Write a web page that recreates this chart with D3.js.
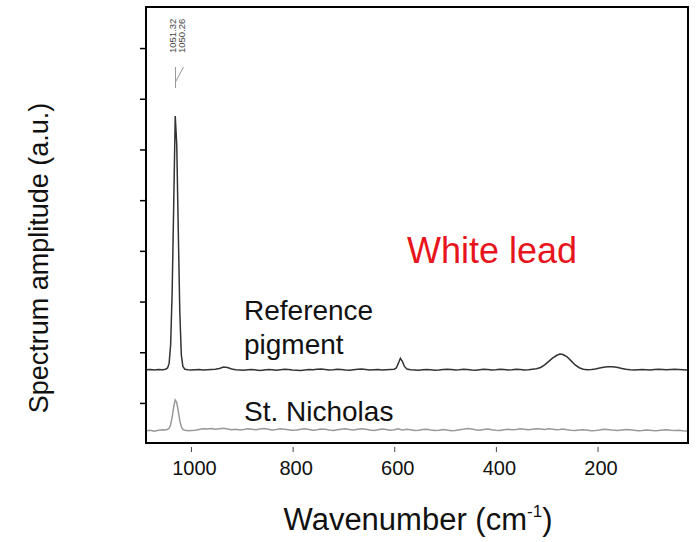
<!DOCTYPE html>
<html>
<head>
<meta charset="utf-8">
<script src="https://cdn.jsdelivr.net/npm/d3@7"></script>
<style>
  body { margin: 0; background: #fff; }
  text { font-family: 'Liberation Sans', Arial, sans-serif; }
</style>
</head>
<body>
<svg width="698" height="542"></svg>
<script>
// raman spectra, white lead

// wavenumber grid (cm-1), shared by both traces
var waveGrid = [1088, 1080, 1072, 1064, 1056, 1050, 1046, 1043, 1040, 1037, 1034, 1031, 1028, 1025, 1022, 1019, 1016, 1012, 1006, 1000,
  992, 984, 976, 968, 960, 952, 944, 936, 928, 920, 912, 904, 896, 888, 880, 872, 864, 856, 848, 840, 832, 824, 816, 808, 800,
  792, 784, 776, 768, 760, 752, 744, 736, 728, 720, 712, 704, 696, 688, 680, 672, 664, 656, 648, 640, 632, 624, 616, 608, 600,
  596, 592, 588, 584, 580, 575, 568,
  560, 552, 544, 536, 528, 520, 512, 504, 496, 488, 480, 472, 464, 456, 448, 440, 432, 424, 416, 408, 400,
  392, 384, 376, 368, 360, 352, 344, 336, 328, 320, 312, 304, 296, 288, 280,
  274, 268,
  260, 252, 244, 236, 228, 220, 212, 204, 196, 188, 180, 172,
  166,
  160, 152, 144, 136, 128, 120, 112, 104, 96, 88, 80, 72, 64, 56, 48, 40, 32, 24];

// reference pigment trace (a.u.)
var referenceAmp = [1.655, 1.66, 1.65, 1.66, 1.655, 1.665, 1.69, 1.78, 2.15, 3.2, 4.9, 6.66, 6.1, 4.4, 2.8, 1.95, 1.72, 1.665, 1.655, 1.65,
  1.655, 1.66, 1.65, 1.655, 1.66, 1.665, 1.68, 1.71, 1.7, 1.67, 1.655, 1.65, 1.645, 1.655, 1.66, 1.65, 1.64, 1.65, 1.66, 1.655, 1.645, 1.655, 1.665, 1.66, 1.65,
  1.645, 1.64, 1.65, 1.66, 1.655, 1.665, 1.67, 1.66, 1.65, 1.655, 1.665, 1.66, 1.65, 1.645, 1.655, 1.665, 1.67, 1.66, 1.65, 1.655, 1.66, 1.65, 1.655, 1.66, 1.665,
  1.69, 1.78, 1.88, 1.82, 1.72, 1.67, 1.655,
  1.65, 1.645, 1.655, 1.66, 1.655, 1.645, 1.65, 1.66, 1.665, 1.66, 1.65, 1.655, 1.665, 1.66, 1.65, 1.645, 1.655, 1.665, 1.66, 1.65, 1.655,
  1.665, 1.66, 1.65, 1.655, 1.665, 1.66, 1.65, 1.655, 1.665, 1.675, 1.70, 1.75, 1.82, 1.89, 1.94,
  1.965, 1.955,
  1.91, 1.83, 1.75, 1.695, 1.665, 1.655, 1.66, 1.67, 1.69, 1.705, 1.715, 1.715,
  1.71,
  1.70, 1.68, 1.665, 1.655, 1.65, 1.655, 1.66, 1.655, 1.65, 1.66, 1.665, 1.66, 1.655, 1.66, 1.665, 1.66, 1.655, 1.65];

// st. nicholas sample trace (a.u.)
var nicholasAmp = [0.45, 0.46, 0.44, 0.46, 0.47, 0.465, 0.48, 0.50, 0.57, 0.72, 0.92, 1.06, 1.01, 0.84, 0.65, 0.53, 0.48, 0.46, 0.45, 0.455,
  0.46, 0.475, 0.49, 0.485, 0.495, 0.48, 0.49, 0.50, 0.485, 0.47, 0.48, 0.465, 0.475, 0.49, 0.48, 0.47, 0.485, 0.495, 0.48, 0.465, 0.475, 0.49, 0.48, 0.47, 0.46,
  0.465, 0.48, 0.49, 0.475, 0.46, 0.47, 0.485, 0.48, 0.465, 0.455, 0.47, 0.48, 0.49, 0.475, 0.465, 0.48, 0.49, 0.48, 0.465, 0.455, 0.47, 0.485, 0.475, 0.46, 0.47,
  0.48, 0.49, 0.475, 0.465, 0.47, 0.48, 0.47,
  0.455, 0.46, 0.475, 0.48, 0.465, 0.455, 0.46, 0.475, 0.465, 0.45, 0.455, 0.47, 0.48, 0.495, 0.485, 0.47, 0.46, 0.475, 0.485, 0.47, 0.46,
  0.455, 0.47, 0.48, 0.47, 0.475, 0.49, 0.48, 0.47, 0.48, 0.49, 0.485, 0.475, 0.49, 0.48, 0.47,
  0.475, 0.485,
  0.47, 0.46, 0.455, 0.465, 0.47, 0.46, 0.45, 0.455, 0.465, 0.48, 0.475, 0.465,
  0.46,
  0.455, 0.465, 0.475, 0.47, 0.46, 0.45, 0.455, 0.465, 0.46, 0.45, 0.455, 0.465, 0.47, 0.46, 0.455, 0.46, 0.45, 0.445];

var xTicks = [1000, 800, 600, 400, 200];
var yTicks = [1, 2, 3, 4, 5, 6, 7, 8];
var peakLabels = ['1051.32', '1050.26'];
var peakPos = 1030.5;

var svg = d3.select('svg');

// plot box (window.top is taken, so no plain 'top')
var plotLeft = 146, plotRight = 688, plotTop = 7, plotBottom = 443;

var x = d3.scaleLinear().domain([1088.5, 22]).range([plotLeft, plotRight]);
var y = d3.scaleLinear().domain([0.21, 8.81]).range([plotBottom, plotTop]);

var line = d3.line()
  .x(function(d) { return x(d[0]); })
  .y(function(d) { return y(d[1]); });

var zipTrace = function(amps) {
  return waveGrid.map(function(w, i) { return [w, amps[i]]; });
};

// traces
svg.append('path')
  .datum(zipTrace(nicholasAmp))
  .attr('d', line)
  .attr('fill', 'none')
  .attr('stroke', '#999')
  .attr('stroke-width', 1.5);

svg.append('path')
  .datum(zipTrace(referenceAmp))
  .attr('d', line)
  .attr('fill', 'none')
  .attr('stroke', '#333')
  .attr('stroke-width', 1.5);

// frame
svg.append('rect')
  .attr('x', plotLeft).attr('y', plotTop)
  .attr('width', plotRight - plotLeft).attr('height', plotBottom - plotTop)
  .attr('fill', 'none')
  .attr('stroke', '#000')
  .attr('stroke-width', 2);

// y ticks, no labels
var yAxis = svg.append('g')
  .attr('transform', 'translate(' + plotLeft + ',0)')
  .call(d3.axisLeft(y).tickValues(yTicks).tickSize(6).tickFormat(''));
yAxis.select('.domain').remove();
yAxis.selectAll('line').attr('stroke', '#000').attr('stroke-width', 1.5);

// x ticks sit a little below the frame
var xAxis = svg.append('g')
  .attr('transform', 'translate(0,' + (plotBottom + 4) + ')')
  .call(d3.axisBottom(x).tickValues(xTicks).tickSize(5).tickPadding(9).tickFormat(d3.format('d')));
xAxis.select('.domain').remove();
xAxis.selectAll('line').attr('stroke', '#444').attr('stroke-width', 1);
xAxis.selectAll('text')
  .attr('font-size', 20)
  .attr('fill', '#111')
  .attr('dx', 3)
  .style('font-family', "'Liberation Sans', Arial, sans-serif");

// axis titles
var xTitle = svg.append('text')
  .attr('x', 418).attr('y', 530)
  .attr('text-anchor', 'middle')
  .attr('font-size', 31)
  .attr('fill', '#111');
xTitle.append('tspan').text('Wavenumber (cm');
xTitle.append('tspan').attr('font-size', 17).attr('dy', -13).text('-1');
xTitle.append('tspan').attr('dy', 13).text(')');

svg.append('text')
  .attr('transform', 'translate(48,258) rotate(-90)')
  .attr('text-anchor', 'middle')
  .attr('font-size', 27)
  .attr('fill', '#111')
  .text('Spectrum amplitude (a.u.)');

// annotations
svg.append('text')
  .attr('x', 407).attr('y', 263)
  .attr('font-size', 36)
  .attr('fill', '#e8141c')
  .text('White lead');

svg.append('text')
  .attr('x', 244).attr('y', 320)
  .attr('font-size', 28)
  .attr('fill', '#111')
  .text('Reference');

svg.append('text')
  .attr('x', 244).attr('y', 354)
  .attr('font-size', 28)
  .attr('fill', '#111')
  .text('pigment');

svg.append('text')
  .attr('x', 244).attr('y', 421)
  .attr('font-size', 28)
  .attr('fill', '#111')
  .text('St. Nicholas');

// peak labels at top
svg.selectAll('.peaklabel')
  .data(peakLabels)
  .enter()
  .append('text')
  .attr('class', 'peaklabel')
  .attr('transform', function(d, i) {
    return 'translate(' + (x(peakPos) + 1 + i * 9) + ',53) rotate(-90)';
  })
  .attr('font-size', 9.5)
  .attr('fill', '#444')
  .text(function(d) { return d; });

// peak marker
var px = x(peakPos);
svg.append('path')
  .attr('d', 'M' + px + ',67 L' + px + ',88 M' + px + ',82 L' + (px + 8) + ',67')
  .attr('fill', 'none')
  .attr('stroke', '#999')
  .attr('stroke-width', 1);
</script>
</body>
</html>
